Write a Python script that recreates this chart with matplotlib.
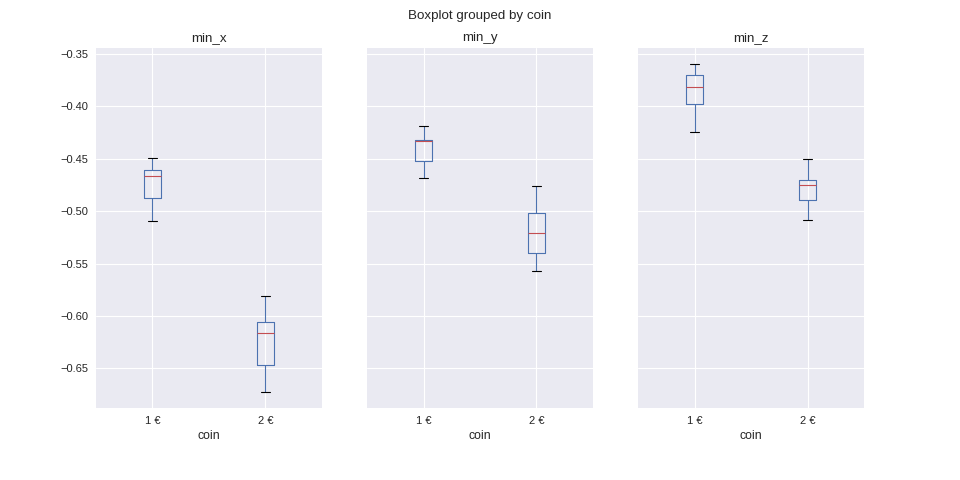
import matplotlib
matplotlib.use("Agg")
import matplotlib.pyplot as plt

# five-number summaries (per coin)
coins = ["1 €", "2 €"]
columns = ["min_x", "min_y", "min_z"]

whis_lo = {"min_x": [-0.5093, -0.6722], "min_y": [-0.4684, -0.5570], "min_z": [-0.4246, -0.5085]}
q1 = {"min_x": [-0.4874, -0.6465], "min_y": [-0.4522, -0.5398], "min_z": [-0.3979, -0.4893]}
median = {"min_x": [-0.4665, -0.6160], "min_y": [-0.4331, -0.5208], "min_z": [-0.3817, -0.4750]}
q3 = {"min_x": [-0.4608, -0.6055], "min_y": [-0.4322, -0.5021], "min_z": [-0.3703, -0.4703]}
whis_hi = {"min_x": [-0.4493, -0.5808], "min_y": [-0.4189, -0.4760], "min_z": [-0.3598, -0.4503]}

plt.style.use("seaborn-v0_8")
colors = plt.rcParams["axes.prop_cycle"].by_key()["color"]

fig, axes = plt.subplots(1, 3, figsize=(12, 6), dpi=80, sharey=True)
fig.subplots_adjust(left=0.1, right=0.9, top=0.9, bottom=0.15, wspace=0.2)

for ax, col in zip(axes, columns):
    stats = []
    for i, coin in enumerate(coins):
        stats.append({
            "label": coin,
            "whislo": whis_lo[col][i],
            "q1": q1[col][i],
            "med": median[col][i],
            "q3": q3[col][i],
            "whishi": whis_hi[col][i],
            "fliers": [],
        })
    ax.bxp(stats, showfliers=False,
           boxprops=dict(color=colors[0]),
           whiskerprops=dict(color=colors[0]),
           medianprops=dict(color=colors[2]),
           capprops=dict(color="k"))
    ax.set_title(col)
    ax.set_xlabel("coin")
    ax.grid(True)

fig.suptitle("Boxplot grouped by coin")
fig.savefig("out.png")
